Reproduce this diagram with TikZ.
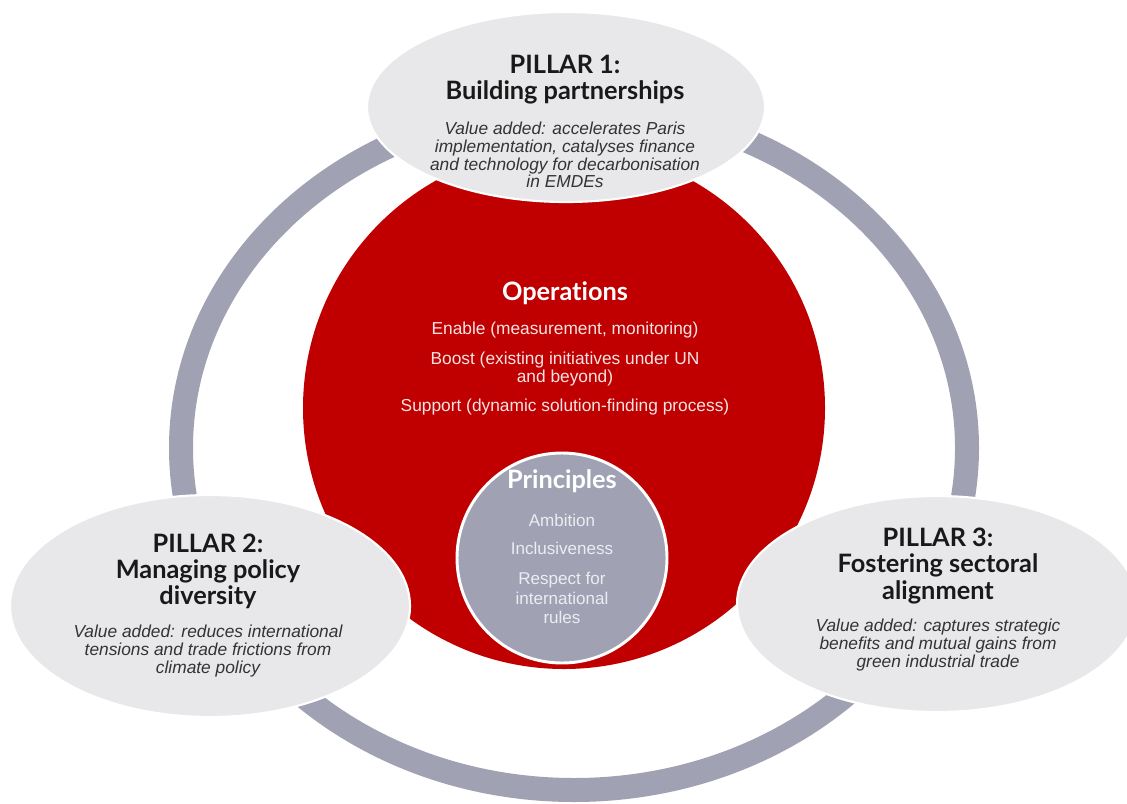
\documentclass[tikz,border=0pt]{standalone}
\usepackage{fontspec}
\setmainfont{Liberation Sans}
\newfontfamily\headfont[Ligatures=NoCommon]{Lato}
\usetikzlibrary{shapes.geometric,positioning}
\definecolor{opsred}{RGB}{192,0,0}
\definecolor{ringgray}{RGB}{160,161,179}
\definecolor{pillarfill}{RGB}{232,232,234}
\definecolor{opstext}{RGB}{246,228,228}
\definecolor{printext}{RGB}{236,236,242}
\begin{document}
\begin{tikzpicture}[x=0.75pt, y=-0.75pt,
  pillar/.style={ellipse, fill=pillarfill, draw=white, line width=1.6pt, inner sep=0pt},
  heading/.style={font=\headfont\bfseries\fontsize{19}{19.6}\selectfont, align=center, inner sep=0pt},
  valuetext/.style={font=\itshape\fontsize{13}{13.4}\selectfont, align=center, text=black!80, inner sep=0pt},
  optext/.style={font=\fontsize{13}{13.6}\selectfont, align=center, text=opstext, inner sep=0pt},
  printxt/.style={font=\fontsize{12.8}{14.6}\selectfont, align=center, text=printext, inner sep=0pt}]
  \useasboundingbox (0,0) rectangle (1127,803);
  \fill[white] (0,0) rectangle (1127,803);
  \draw[ringgray, line width=18pt] (574,448) ellipse [x radius=294.75pt, y radius=256.5pt];
  \fill[opsred] (564,408) circle [radius=195.75pt];
  \node[circle, fill=ringgray, draw=white, line width=2.2pt, minimum size=157.5pt, inner sep=0pt] (core) at (562,558) {};
  \node[pillar, minimum width=298.5pt, minimum height=142.5pt] (p1) at (566,107) {};
  \node[pillar, minimum width=300pt, minimum height=166.5pt] (p2) at (210,606) {};
  \node[pillar, minimum width=300pt, minimum height=162pt] (p3) at (937,604) {};
  \node[heading, text=black!90] (p1head) at (565,80) {PILLAR 1:\\Building partnerships};
  \node[valuetext] (p1value) at (565,155) {Value added: accelerates Paris\\implementation, catalyses finance\\and technology for decarbonisation\\in EMDEs};
  \node[heading, text=black!90] (p2head) at (208,571) {PILLAR 2:\\Managing policy\\diversity};
  \node[valuetext] (p2value) at (208,651) {Value added: reduces international\\tensions and trade frictions from\\climate policy};
  \node[heading, text=black!90] (p3head) at (938,566) {PILLAR 3:\\Fostering sectoral\\alignment};
  \node[valuetext] (p3value) at (938,645) {Value added: captures strategic\\benefits and mutual gains from\\green industrial trade};
  \node[heading, text=white] (opshead) at (565,293) {Operations};
  \node[optext] (enable) at (565,330) {Enable (measurement, monitoring)};
  \node[optext] (boost) at (565,369) {Boost (existing initiatives under UN\\and beyond)};
  \node[optext] (support) at (565,407) {Support (dynamic solution-finding process)};
  \node[heading, text=white] (prinhead) at (562,481) {Principles};
  \node[printxt] (ambition) at (562,520) {Ambition};
  \node[printxt] (inclusive) at (562,548) {Inclusiveness};
  \node[printxt] (respect) at (562,598) {Respect for\\international\\rules};
\end{tikzpicture}
\end{document}
